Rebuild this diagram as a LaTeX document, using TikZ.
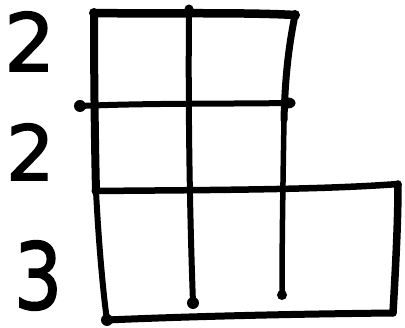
\documentclass[tikz,border=0pt]{standalone}
\usepackage{fontspec}
\setmainfont{DejaVu Sans}
\newfontfamily\digitfont{DejaVu Sans}[FakeBold=2]
\begin{document}
\begin{tikzpicture}[x=1pt,y=-1pt,
  ink/.style={line width=#1, line cap=round, line join=round},
  ink/.default=5pt,
  blob/.style={fill=black},
  digit/.style={font=\fontsize{#1}{#1}\digitfont, inner sep=0pt, anchor=base west},
]
\useasboundingbox (0,0) rectangle (405,328);
% named corner points
\coordinate (tl) at (94,13);
\coordinate (tr) at (295,15);
\coordinate (ml) at (96,191);
\coordinate (bl) at (107,320);
\coordinate (mt) at (189,9);
\coordinate (mb) at (193,303);
\coordinate (rb) at (282,295);
\coordinate (h2l) at (80,106);
\coordinate (h2r) at (288,103);
\coordinate (h3r) at (398,184);
\coordinate (br) at (393,313);
% outer frame
\draw[ink=8.5pt] (tl) .. controls (150,14) and (240,12) .. (tr);
\draw[ink=8pt] (tl) .. controls (94,80) and (95,150) .. (ml);
\draw[ink=6pt] (ml) .. controls (99,250) and (104,300) .. (bl);
\draw[ink=7pt] (bl) .. controls (200,316) and (300,314) .. (br);
\draw[ink=7.5pt] (br) .. controls (396,260) and (398,220) .. (h3r);
% inner lines
\draw[ink=6pt] (mt) .. controls (188,120) and (190,220) .. (mb);
\draw[ink=7pt] (tr) .. controls (288,50) and (285,80) .. (284,120);
\draw[ink=5.5pt] (284,120) .. controls (283,180) and (282,240) .. (rb);
\draw[ink=6pt] (h2l) .. controls (150,103) and (230,104) .. (h2r);
\draw[ink=6.5pt] (ml) .. controls (200,190) and (320,190) .. (h3r);
% dots at stroke ends
\fill[blob] (h2l) circle (6);
\fill[blob] (h2r) ellipse (7.5 and 5.5);
\fill[blob] (mb) circle (6);
\fill[blob] (rb) circle (5);
\fill[blob] (bl) circle (6);
\fill[blob] (tl) circle (5);
\fill[blob] (mt) circle (4.5);
\fill[blob] (ml) circle (4.5);
\fill[blob] (tr) circle (5);
% labels
\node[digit=80] (d1) at (4,71) {2};
\node[digit=76] (d2) at (6,180) {2};
\node[digit=92, xscale=0.82] (d3) at (14,309) {3};
\end{tikzpicture}
\end{document}
